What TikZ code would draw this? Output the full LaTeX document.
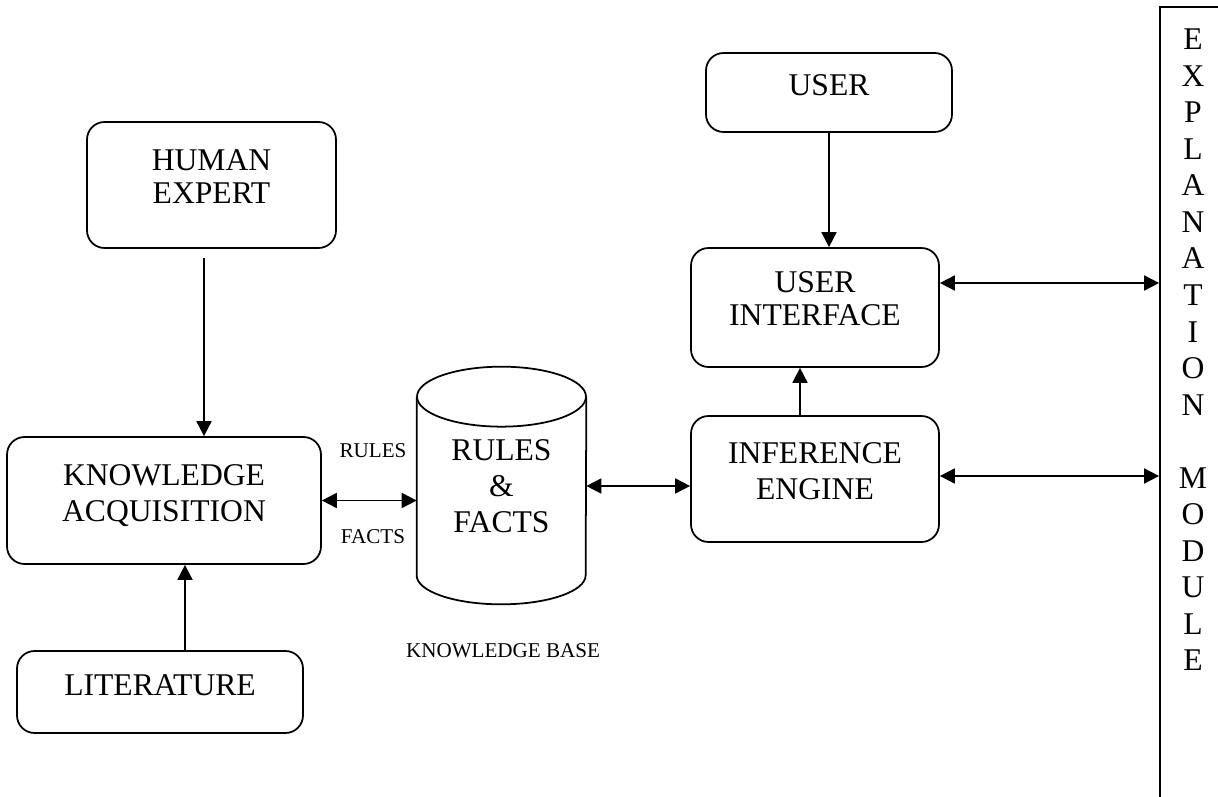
\documentclass[tikz,border=0pt]{standalone}
\usepackage{fontspec}
\setmainfont{Liberation Serif}
\usetikzlibrary{arrows.meta,calc}

\newcommand{\blocktext}[1]{\begin{tabular}{@{}c@{}}#1\end{tabular}}

\tikzset{
  blockbox/.style={draw,line width=1pt,rounded corners=0.35cm,
    text height=3.3pt,text depth=0pt,font=\fontsize{18}{18.8}\selectfont},
  oneline/.style={text height=5pt},
  wideline/.style={font=\fontsize{18}{20.5}\selectfont},
  smalltxt/.style={font=\fontsize{12}{13}\selectfont},
  onearr/.style={line width=1pt,-{Triangle[length=0.3cm,width=0.3cm]}},
  twoarr/.style={line width=1pt,{Triangle[length=0.3cm,width=0.3cm]}-{Triangle[length=0.3cm,width=0.3cm]}}
}

\begin{document}
\begin{tikzpicture}[x=0.02cm,y=-0.02cm]
\useasboundingbox (0,0) rectangle (1218,797);

\node[blockbox,minimum width=4.98cm,minimum height=2.52cm] (he) at (211.5,185) {\blocktext{HUMAN\\EXPERT}};
\node[blockbox,wideline,minimum width=6.28cm,minimum height=2.54cm] (ka) at (164,500.5) {\blocktext{KNOWLEDGE\\ACQUISITION}};
\node[blockbox,oneline,minimum width=5.72cm,minimum height=1.64cm] (lit) at (160,692) {\blocktext{LITERATURE}};
\node[blockbox,oneline,minimum width=4.92cm,minimum height=1.58cm] (user) at (829,92.5) {\blocktext{USER}};
\node[blockbox,minimum width=4.96cm,minimum height=2.38cm] (ui) at (815,307.5) {\blocktext{USER\\INTERFACE}};
\node[blockbox,wideline,minimum width=4.96cm,minimum height=2.52cm] (ie) at (815,479) {\blocktext{INFERENCE\\ENGINE}};

\node[align=center,inner sep=0pt,minimum width=3.38cm,minimum height=3.56cm,
  font=\fontsize{18}{20.5}\selectfont] (kb) at (501.5,486) {RULES\\\&\\FACTS};
\draw[line width=1pt] (kb.north west) -- (kb.south west)
  arc[start angle=180,end angle=360,x radius=1.69cm,y radius=0.58cm] -- (kb.north east);
\draw[line width=1pt] (kb.north) ellipse [x radius=1.69cm,y radius=0.6cm];

\node[smalltxt] (rules) at (373,451) {RULES};
\node[smalltxt] (facts) at (373,537) {FACTS};
\node[smalltxt] (kbname) at (503,651) {KNOWLEDGE BASE};

\node[draw,line width=1pt,minimum width=2cm,minimum height=16.46cm] (explbox) at (1210,418.5) {};
\node[align=center,font=\fontsize{18}{20.8}\selectfont] (expltxt) at (1193,350)
  {E\\X\\P\\L\\A\\N\\A\\T\\I\\O\\N\\[20.8pt]M\\O\\D\\U\\L\\E};

\draw[onearr] ([xshift=-0.15cm,yshift=-0.18cm]he.south) -- ([xshift=-0.15cm]he.south |- ka.north);
\draw[onearr] ([xshift=0.5cm]lit.north) -- ([xshift=0.5cm]lit.north |- ka.south);
\draw[twoarr] (ka.east) -- (ka.east -| kb.west);
\draw[twoarr] (kb.east) -- (kb.east -| ie.west);
\draw[onearr] (user.south) -- (user.south |- ui.north);
\draw[onearr] ([xshift=-0.3cm]ie.north) -- ([xshift=-0.3cm]ie.north |- ui.south);
\draw[twoarr] ([yshift=0.49cm]ui.east) -- ([yshift=0.49cm]ui.east -| explbox.west);
\draw[twoarr] ([yshift=0.06cm]ie.east) -- ([yshift=0.06cm]ie.east -| explbox.west);

\end{tikzpicture}
\end{document}
